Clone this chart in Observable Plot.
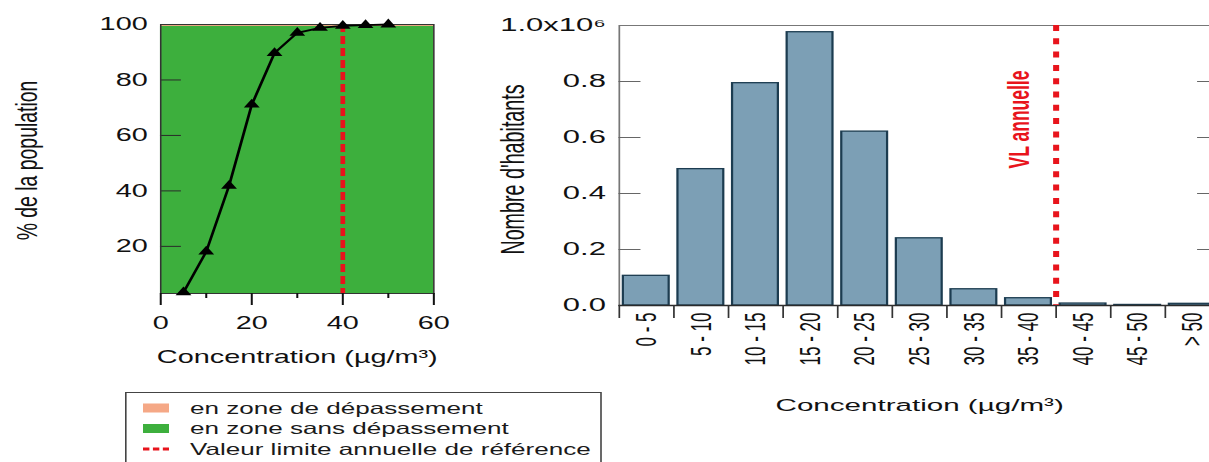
<!DOCTYPE html>
<html>
<head>
<meta charset="utf-8">
<script src="https://cdn.jsdelivr.net/npm/d3@7"></script>
<script src="https://cdn.jsdelivr.net/npm/@observablehq/plot@0.6"></script>
<style>
  html, body { margin:0; padding:0; background:#fff; width:1209px; height:462px; overflow:hidden; }
  .panel { position:absolute; top:0; transform-origin:0 0; }
  .panel svg { background: transparent !important; overflow: visible; display:block; }
  #leftPanel { left:0; transform: scaleX(1.55); }
  #rightPanel { left:480px; transform: scaleX(1.72); }
  #legendPanel { left:125px; top:392px; transform: scaleX(1.6); }
</style>
</head>
<body>
<div id="rightPanel" class="panel"></div>
<div id="leftPanel" class="panel"></div>
<div id="legendPanel" class="panel"></div>
<script>
const FONT = '"Liberation Sans", Arial, Helvetica, sans-serif';
const PEACH = "#f5a886", GREEN = "#3daf3d", RED = "#e8141c", BAR = "#7c9fb5", BAR_STROKE = "#1c3c50";

// ---- left panel data: cumulative % of population by concentration ----
const concentrations = [5, 10, 15, 20, 25, 30, 35, 40, 45, 50];
const cumulativePct = [3.4, 18.1, 41.8, 71.1, 89.7, 97.0, 98.8, 99.5, 99.8, 100];
const pctSansDepassement = 99.3;
const leftXDomain = [0, 60];
const leftYDomain = [3, 100];
const leftYTicks = [20, 40, 60, 80];
const leftYLabels = [20, 40, 60, 80, 100];
const leftXMajor = [0, 20, 40, 60];
const leftXMinor = [10, 30, 50];
const limitValue = 40;

// ---- right panel data: inhabitants per concentration class ----
const classes = ["0 - 5", "5 - 10", "10 - 15", "15 - 20", "20 - 25", "25 - 30", "30 - 35", "35 - 40", "40 - 45", "45 - 50", "> 50"];
const habitants = [106000, 487000, 794000, 976000, 621000, 240000, 58000, 26000, 7000, 2000, 6000];
const binWidth = 5;
const rightYTicks = [0, 200000, 400000, 600000, 800000, 1000000];
const rightYInner = [200000, 400000, 600000, 800000];

// ---- legend ----
const legendLabels = ["en zone de dépassement", "en zone sans dépassement", "Valeur limite annuelle de référence"];
const legendKinds = ["peach", "green", "dash"];

// LEFT PLOT
const LW = 300, LH = 380, LML = 103.2, LMR = 20.6, LMT = 24, LMB = 87;
const leftPlotW = LW - LML - LMR;
const leftPoints = concentrations.map((c, i) => ({c, p: cumulativePct[i]}));
const left = Plot.plot({
  width: LW, height: LH,
  marginLeft: LML, marginRight: LMR, marginTop: LMT, marginBottom: LMB,
  style: {fontFamily: FONT, fontSize: "18.6px", color: "#111", background: "transparent", overflow: "visible"},
  x: {domain: leftXDomain},
  y: {domain: leftYDomain},
  marks: [
    Plot.frame({fill: PEACH}),
    Plot.rect([pctSansDepassement], {x1: leftXDomain[0], x2: leftXDomain[1], y1: leftYDomain[0], y2: d => d, fill: GREEN}),
    Plot.tickY(leftYTicks, {y: d => d, stroke: "#2a2a2a", strokeWidth: 1, insetRight: leftPlotW - 13.5}),
    Plot.frame({stroke: "#333"}),
    Plot.ruleX([limitValue], {stroke: RED, strokeWidth: 3, strokeDasharray: "8,4"}),
    Plot.line(leftPoints, {x: "c", y: "p", stroke: "#000", strokeWidth: 1.8}),
    Plot.dot(leftPoints, {x: "c", y: "p", symbol: "triangle", r: 3.8, fill: "#000", stroke: "none"}),
    Plot.axisY({ticks: leftYLabels, tickSize: 0, tickPadding: 8.4, fontSize: 18.6, label: null}),
    Plot.axisX({ticks: leftXMajor, tickSize: 12, tickPadding: 10, strokeWidth: 1.3, fontSize: 18.6, label: null}),
    Plot.axisX({ticks: leftXMinor, tickSize: 5, strokeWidth: 1.3, tickFormat: () => "", label: null}),
    Plot.text(["Concentration (µg/m³)"], {text: d => d, frameAnchor: "bottom", dy: 64, lineAnchor: "middle", textAnchor: "middle", fontSize: 18.6}),
    Plot.text(["% de la population"], {text: d => d, frameAnchor: "left", dx: -85.8, dy: 1.5, rotate: -90, textAnchor: "middle", lineAnchor: "middle", fontSize: 19.4})
  ]
});
document.getElementById("leftPanel").appendChild(left);

// RIGHT PLOT
const RW = 440, RH = 462, RML = 80.5, RMR = 10.3, RMT = 25, RMB = 157;
const rightPlotW = RW - RML - RMR;
const bars = classes.map((c, i) => ({i, c, v: habitants[i]}));
const right = Plot.plot({
  width: RW, height: RH,
  marginLeft: RML, marginRight: RMR, marginTop: RMT, marginBottom: RMB,
  style: {fontFamily: FONT, fontSize: "17.5px", color: "#111", background: "transparent", overflow: "visible"},
  x: {domain: [0, classes.length]},
  y: {domain: [rightYTicks[0], rightYTicks[rightYTicks.length - 1]]},
  marks: [
    Plot.rect(bars, {x1: "i", x2: d => d.i + 1, y1: 0, y2: "v", fill: BAR, stroke: BAR_STROKE, strokeWidth: 1.3, insetLeft: 2.55, insetRight: 2.55}),
    Plot.frame({stroke: "#777"}),
    Plot.tickY(rightYInner, {y: d => d, stroke: "#666", insetRight: rightPlotW - 12.8}),
    Plot.tickY(rightYInner, {y: d => d, stroke: "#666", insetLeft: rightPlotW - 12.8}),
    Plot.ruleY([0], {stroke: "#2b2b2b", strokeWidth: 1.5}),
    Plot.ruleX([limitValue / binWidth], {stroke: RED, strokeWidth: 3.5, strokeDasharray: "6,7.3"}),
    Plot.text([{x: limitValue / binWidth, t: "VL annuelle"}], {x: "x", text: "t", frameAnchor: "top", dy: 94, dx: -21.1, rotate: -90, textAnchor: "middle", lineAnchor: "middle", fill: RED, fontWeight: "bold", fontSize: 17.5}),
    Plot.axisY({ticks: rightYTicks, tickSize: 0, tickPadding: 7.8, tickFormat: d => d >= 1e6 ? "1.0x10⁶" : (d / 1e6).toFixed(1), fontSize: 18, label: null}),
    Plot.axisX({ticks: d3.range(classes.length + 1), tickSize: 13, tickFormat: () => "", stroke: "#333", label: null}),
    Plot.axisX({ticks: classes.map((c, i) => i + 0.5), tickSize: 0, tickPadding: 7, tickRotate: -90, textAnchor: "end", lineAnchor: "middle", tickFormat: d => classes[Math.floor(d)], fontSize: 17, label: null}),
    Plot.text(["Concentration (µg/m³)"], {text: d => d, frameAnchor: "bottom", dy: 100, lineAnchor: "middle", textAnchor: "middle", fontSize: 17.2}),
    Plot.text(["Nombre d'habitants"], {text: d => d, frameAnchor: "left", dx: -61.9, dy: 4, rotate: -90, textAnchor: "middle", lineAnchor: "middle", fontSize: 19.7})
  ]
});
document.getElementById("rightPanel").appendChild(right);

// LEGEND
const lg = d3.select("#legendPanel").append("svg").attr("width", 298).attr("height", 80)
  .style("font-family", FONT);
lg.append("rect").attr("x", 0.5).attr("y", 0.5).attr("width", 297).attr("height", 120)
  .attr("fill", "#fff").attr("stroke", "#444").attr("stroke-width", 1);
const rowY = [16, 36.5, 57];
legendLabels.forEach((lab, i) => {
  const cy = rowY[i];
  const kind = legendKinds[i];
  if (kind === "dash") {
    lg.append("line").attr("x1", 11.25).attr("x2", 27.5).attr("y1", cy).attr("y2", cy)
      .attr("stroke", RED).attr("stroke-width", 3).attr("stroke-dasharray", "4,2.2");
  } else {
    lg.append("rect").attr("x", 11.25).attr("y", cy - 4.5).attr("width", 16.25).attr("height", 9)
      .attr("fill", kind === "peach" ? PEACH : GREEN);
  }
  lg.append("text").attr("x", 40.6).attr("y", cy + 5.7).attr("font-size", 16.3).attr("fill", "#1a1a1a").text(lab);
});
</script>
</body>
</html>
